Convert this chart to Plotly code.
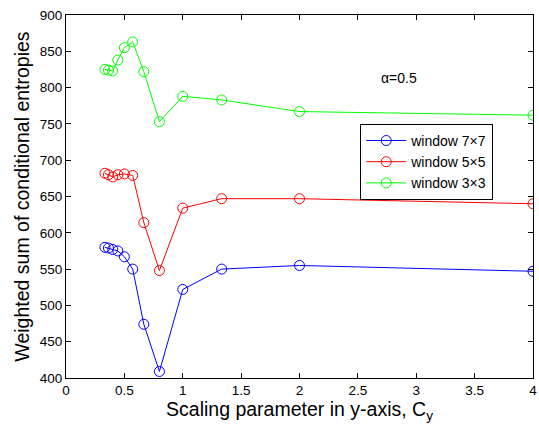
import plotly.graph_objects as go

cy = [4/12, 4/11, 4/10, 4/9, 4/8, 4/7, 4/6, 4/5, 1.0, 4/3, 2.0, 4.0]
w7 = [580, 579, 577, 575, 567, 550, 474, 409, 522, 550, 555, 547]
w5 = [682, 680, 677, 680, 681, 679, 614, 548, 634, 647, 647, 640]
w3 = [825, 824, 823, 838, 855, 863, 822, 753, 788, 783, 767, 762]
series = [("window 7×7", w7, "#0000ff"), ("window 5×5", w5, "#ff0000"), ("window 3×3", w3, "#00ff00")]
xticks = [0, 0.5, 1, 1.5, 2, 2.5, 3, 3.5, 4]
xticklabels = ["0", "0.5", "1", "1.5", "2", "2.5", "3", "3.5", "4"]

fig = go.Figure()
for name, vals, col in series:
    fig.add_trace(go.Scatter(x=cy, y=vals, name=name, mode="lines+markers",
                             line=dict(color=col, width=1),
                             marker=dict(symbol="circle-open", size=10, color=col, line=dict(width=1))))

axis_common = dict(showline=True, linecolor="black", linewidth=1, mirror="ticks",
                   ticks="inside", ticklen=5, tickcolor="black", showgrid=False, zeroline=False,
                   ticklabeloverflow="allow",
                   tickfont=dict(family="Arial", size=13.5, color="black"))
fig.update_xaxes(range=[0, 4], tickvals=xticks, ticktext=xticklabels,
                 title=dict(text="Scaling parameter in y-axis, C<sub>y</sub>",
                            font=dict(family="Arial", size=19.5, color="black"), standoff=4),
                 **axis_common)
fig.update_yaxes(range=[400, 900], dtick=50,
                 title=dict(text="Weighted sum of conditional entropies",
                            font=dict(family="Arial", size=19.5, color="black"), standoff=4),
                 **axis_common)
fig.add_annotation(x=2.68, y=813, xref="x", yref="y", text="α=0.5", showarrow=False,
                   xanchor="left", yanchor="middle", font=dict(family="Arial", size=14, color="black"))
fig.update_layout(width=539, height=433, margin=dict(l=66, r=2, t=15, b=55),
                  plot_bgcolor="white", paper_bgcolor="white",
                  legend=dict(x=0.63, y=0.70, xanchor="left", yanchor="top",
                              bgcolor="white", bordercolor="black", borderwidth=1,
                              font=dict(family="Arial", size=14, color="black"),
                              itemwidth=40, tracegroupgap=0))
fig.write_html("out.html")
